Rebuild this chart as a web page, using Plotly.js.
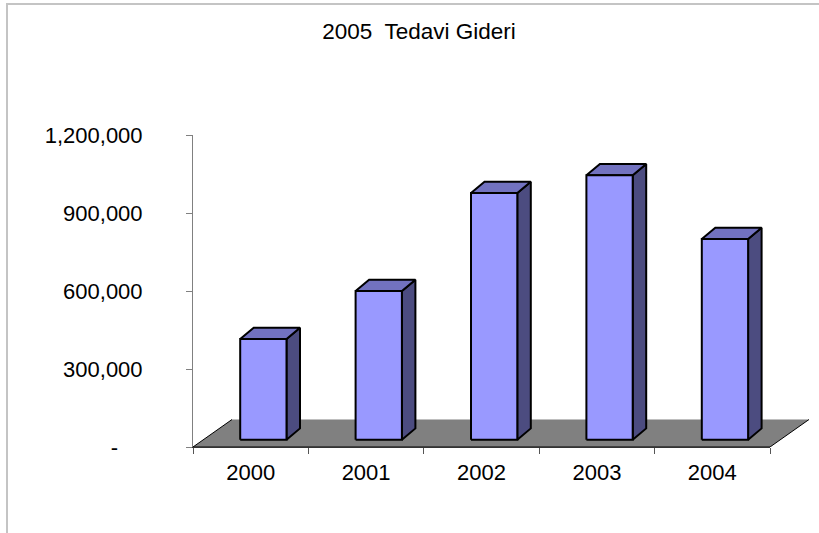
<!DOCTYPE html>
<html>
<head>
<meta charset="utf-8">
<script src="https://cdn.plot.ly/plotly-3.0.1.min.js"></script>
<style>
  html, body { margin: 0; padding: 0; background: #fff; }
  #wrap { position: relative; width: 819px; height: 533px; overflow: hidden; }
  #chart { position: absolute; left: 0; top: 0; width: 819px; height: 533px; }
  #frame { position: absolute; left: 6px; top: 3px; width: 900px; height: 700px;
           border-left: 2px solid #c4c4c4; border-top: 2px solid #c4c4c4; pointer-events: none; }
</style>
</head>
<body>
<div id="wrap"><div id="chart"></div><div id="frame"></div></div>
<script>
// ---- data ----
const years = ['2000', '2001', '2002', '2003', '2004'];
const values = [387000, 572000, 949000, 1017000, 772000];
const yTickVals = [0, 300000, 600000, 900000, 1200000];
const yTickText = ['-\u00a0\u00a0\u00a0\u00a0', '300,000', '600,000', '900,000', '1,200,000'];
const titleText = '2005\u00a0 Tedavi Gideri';

// ---- layout geometry (styles) ----
const W = 819, H = 533, ML = 193, MR = 7, MT = 135, MB = 86;
const plotW = W - ML - MR, plotH = H - MT - MB;
const catPx = 577 / years.length;          // px per category on the visible axis
const yMax = 1200000;
const ux = 1 / catPx, uy = yMax / plotH;   // data units per pixel
const floorDx = 39 * ux, floorDy = 27.5 * uy;
const frontShiftX = -10.5 * ux, frontShiftY = 7.3 * uy;
const barW = 46.3 * ux;
const depthDx = 13.5 * ux, depthDy = 11.3 * uy;
const FONT = 'Liberation Sans, Arial, sans-serif';

const traces = [];
function poly(xs, ys, fill, lw, lc) {
  traces.push({
    type: 'scatter', mode: 'lines', x: xs.concat([xs[0]]), y: ys.concat([ys[0]]),
    fill: 'toself', fillcolor: fill,
    line: { color: lc || '#000', width: lw }, hoverinfo: 'skip', showlegend: false,
    xaxis: 'x', yaxis: 'y'
  });
}

// floor
const n = years.length;
const x0 = -0.5, x1 = n - 0.5;
poly([x0, x1, x1 + floorDx, x0 + floorDx], [0, 0, floorDy, floorDy], '#808080', 0, 'rgba(0,0,0,0)');
traces.push({
  type: 'scatter', mode: 'lines',
  x: [x0 + floorDx, x0, x1, x1 + floorDx], y: [floorDy, 0, 0, floorDy],
  line: { color: '#000', width: 1 }, hoverinfo: 'skip', showlegend: false
});

// bars
values.forEach((v, i) => {
  const xl = i + frontShiftX, xr = xl + barW;
  const yb = frontShiftY, yt = v + frontShiftY;
  // side
  poly([xr, xr + depthDx, xr + depthDx, xr], [yb, yb + depthDy, yt + depthDy, yt], '#4c4c80', 2);
  // top
  poly([xl, xr, xr + depthDx, xl + depthDx], [yt, yt, yt + depthDy, yt + depthDy], '#7272c0', 2);
  // front
  poly([xl, xr, xr, xl], [yb, yb, yt, yt], '#9999ff', 2);
});

// dummy trace to register categories on the visible category axis
traces.push({
  type: 'scatter', mode: 'none', x: years, y: years.map(() => 0),
  xaxis: 'x2', yaxis: 'y', hoverinfo: 'skip', showlegend: false
});

const layout = {
  width: W, height: H,
  margin: { l: ML, r: MR, t: MT, b: MB, pad: 0 },
  paper_bgcolor: 'rgba(0,0,0,0)',
  plot_bgcolor: 'rgba(0,0,0,0)',
  showlegend: false,
  font: { family: FONT, size: 22, color: '#000' },
  title: {
    text: titleText, font: { family: FONT, size: 22.5, color: '#000' },
    xref: 'container', x: 419 / W, xanchor: 'center',
    yref: 'container', y: 1 - 31 / H, yanchor: 'middle'
  },
  xaxis: {
    domain: [0, 1], range: [x0, x0 + plotW / catPx],
    visible: false, fixedrange: true
  },
  xaxis2: {
    domain: [0, 577 / plotW], anchor: 'y', type: 'category',
    categoryarray: years, categoryorder: 'array', range: [-0.5, n - 0.5],
    tickson: 'boundaries', ticks: 'outside', ticklen: 6, tickwidth: 1, tickcolor: '#555',
    showline: true, linecolor: '#333', linewidth: 1,
    showgrid: false, zeroline: false,
    ticklabelstandoff: 6,
    tickfont: { family: FONT, size: 22, color: '#000' }
  },
  yaxis: {
    domain: [0, 1], range: [0, yMax],
    tickmode: 'array', tickvals: yTickVals, ticktext: yTickText,
    ticks: 'outside', ticklen: 6, tickwidth: 1, tickcolor: '#808080',
    showline: true, linecolor: '#808080', linewidth: 1,
    showgrid: false, zeroline: false,
    ticklabelstandoff: 39,
    tickfont: { family: FONT, size: 22, color: '#000' }
  }
};

Plotly.newPlot('chart', traces, layout, { staticPlot: true, displayModeBar: false });
</script>
</body>
</html>
